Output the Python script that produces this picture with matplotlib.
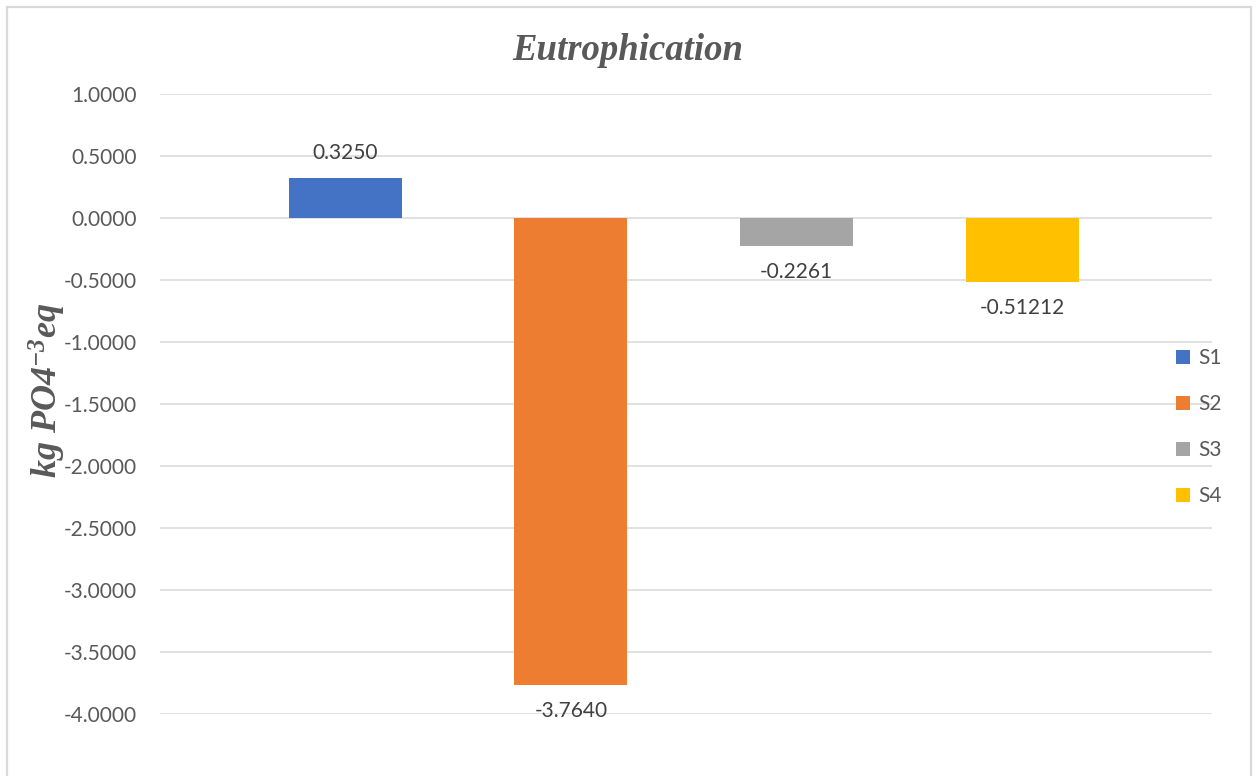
import matplotlib
matplotlib.use("Agg")
from matplotlib import pyplot as plt
from matplotlib.patches import Rectangle
from matplotlib.ticker import FormatStrFormatter

# scenario results, kg PO4-3 eq
scenarios = ["S1", "S2", "S3", "S4"]
values = [0.3250, -3.7640, -0.2261, -0.51212]
value_labels = ["0.3250", "-3.7640", "-0.2261", "-0.51212"]
colors = ["#4472C4", "#ED7D31", "#A5A5A5", "#FFC000"]
y_ticks = [1.0, 0.5, 0.0, -0.5, -1.0, -1.5, -2.0, -2.5, -3.0, -3.5, -4.0]

plt.rcParams["font.family"] = ["Lato", "DejaVu Sans"]
plt.rcParams["mathtext.fontset"] = "custom"
plt.rcParams["mathtext.rm"] = "Liberation Serif:italic:bold"
plt.rcParams["mathtext.it"] = "Liberation Serif:italic:bold"
plt.rcParams["mathtext.bf"] = "Liberation Serif:italic:bold"

text_grey = "#595959"
grid_grey = "#D9D9D9"

W, H = 1256, 776
fig = plt.figure(figsize=(W / 100, H / 100), dpi=100)
ax = fig.add_axes([160 / W, 1 - 714 / H, (1212 - 160) / W, (714 - 94) / H])

xs = list(range(len(scenarios)))
bars = ax.bar(xs, values, width=0.5, color=colors, label=scenarios, zorder=3)

for x, v, lab in zip(xs, values, value_labels):
    off = 18 if v >= 0 else -19
    ax.annotate(lab, (x, v), xytext=(0, off), textcoords="offset points",
                ha="center", va="center", fontsize=15, color="#404040", zorder=4)

ax.set_xlim(-0.82, 3.84)
ax.set_ylim(-4.0, 1.0)
ax.set_yticks(y_ticks)
ax.yaxis.set_major_formatter(FormatStrFormatter("%.4f"))
ax.set_xticks([])
ax.tick_params(axis="y", length=0, pad=17, labelsize=15, labelcolor=text_grey)
ax.grid(axis="y", color=grid_grey, linewidth=1.1, zorder=0)
for s in ax.spines.values():
    s.set_visible(False)

fig.text(628 / W, 1 - 50 / H, "Eutrophication", ha="center", va="center",
         fontsize=26.5, fontweight="bold", fontstyle="italic",
         family="Liberation Serif", color=text_grey)
fig.text(47 / W, 1 - 390 / H, r"kg PO4$^{-3}$eq", ha="center", va="center",
         rotation=90, fontsize=26, fontweight="bold", fontstyle="italic",
         family="Liberation Serif", color=text_grey)

leg = fig.legend(handles=bars.patches, labels=scenarios, loc="center left",
                 bbox_to_anchor=(1176 / W, 1 - 427 / H), frameon=False,
                 fontsize=15, labelcolor=text_grey, handlelength=0.65,
                 handleheight=0.65, handletextpad=0.4, labelspacing=1.25,
                 borderpad=0, borderaxespad=0)

# outer chart border
fig.patches.append(Rectangle((7 / W, -0.02), (1251 - 7) / W, 1.02 - 7 / H,
                             transform=fig.transFigure, fill=False,
                             edgecolor=grid_grey, linewidth=1.6))

fig.savefig("out.png", dpi=100)
